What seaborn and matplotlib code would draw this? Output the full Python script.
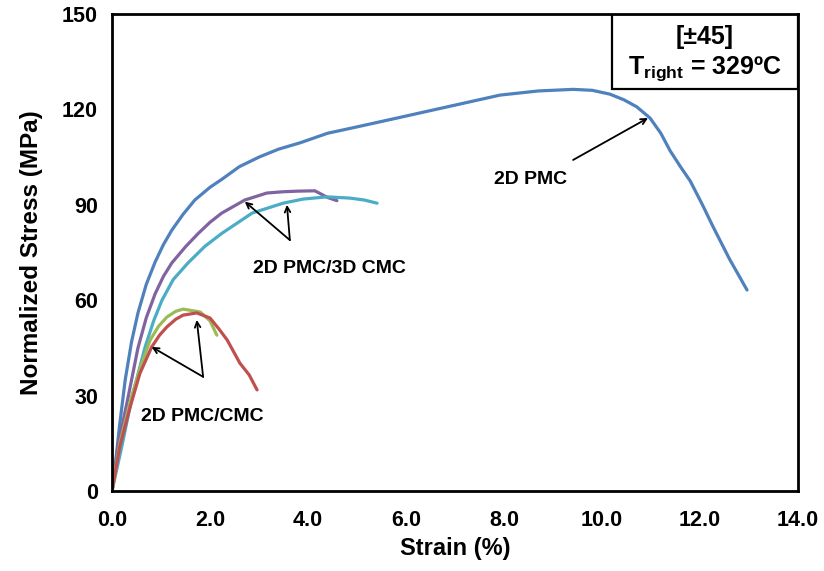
import matplotlib
matplotlib.use("Agg")
import matplotlib.pyplot as plt
from matplotlib.ticker import MultipleLocator, FormatStrFormatter
from matplotlib.patches import Rectangle
import seaborn as sns
import pandas as pd

# ---- data ----
pmc_x = [0, 0.06, 0.15, 0.27, 0.4, 0.53, 0.7, 0.88, 1.05, 1.22, 1.45, 1.69, 2.0, 2.24, 2.6, 3.0,
         3.4, 3.84, 4.4, 5.0, 5.88, 6.9, 7.92, 8.7, 9.41, 9.8, 10.16, 10.45, 10.71, 10.98, 11.2, 11.39,
         11.6, 11.8, 12.05, 12.27, 12.6, 12.96]
pmc_y = [0, 7, 20, 35, 47, 56, 65, 72, 77.5, 82, 87, 91.5, 95.5, 98, 102, 105,
         107.5, 109.5, 112.5, 114.5, 117.5, 121, 124.5, 125.8, 126.3, 126, 124.8, 123, 120.8, 117.3, 112.5, 107,
         102, 97.5, 90, 83, 73, 63.2]

pmc3d_a_x = [0, 0.12, 0.33, 0.53, 0.7, 0.88, 1.05, 1.22, 1.5, 1.76, 2.0, 2.24, 2.71, 3.16, 3.49, 3.8,
             4.14, 4.24, 4.4, 4.59]
pmc3d_a_y = [0, 14, 29.6, 45, 54.5, 62, 67.5, 71.7, 76.8, 81, 84.5, 87.4, 91.5, 93.7, 94.1, 94.3,
             94.4, 93.6, 92.3, 91.3]

pmc3d_b_x = [0, 0.2, 0.41, 0.67, 0.85, 1.02, 1.25, 1.55, 1.9, 2.24, 2.86, 3.49, 3.9, 4.39, 4.86, 5.15, 5.41]
pmc3d_b_y = [0, 14, 29.6, 45, 53.5, 60, 66.5, 71.7, 77, 81, 87.4, 90.5, 91.8, 92.5, 92.1, 91.5, 90.5]

cmc_a_x = [0, 0.16, 0.37, 0.57, 0.81, 0.97, 1.12, 1.3, 1.45, 1.73, 2.0, 2.18, 2.35, 2.61, 2.8, 2.96]
cmc_a_y = [0, 14, 26.4, 37, 45.3, 49, 51.6, 54, 55.3, 56, 54.4, 51, 47.5, 40.2, 36.5, 31.8]

cmc_b_x = [0, 0.16, 0.37, 0.57, 0.78, 0.95, 1.12, 1.3, 1.45, 1.8, 2.0, 2.14]
cmc_b_y = [0, 15, 28, 38.5, 47.5, 51.8, 54.7, 56.5, 57.2, 56.3, 53.5, 49]

series_names = ["2D PMC", "3D CMC a", "3D CMC b", "CMC b", "CMC a"]
series_colors = ["#4F81BD", "#8064A2", "#4BACC6", "#9BBB59", "#C0504D"]

x_ticks = [0, 2, 4, 6, 8, 10, 12, 14]
y_ticks = [0, 30, 60, 90, 120, 150]

frames = []
for name, xs, ys in zip(series_names,
                        [pmc_x, pmc3d_a_x, pmc3d_b_x, cmc_b_x, cmc_a_x],
                        [pmc_y, pmc3d_a_y, pmc3d_b_y, cmc_b_y, cmc_a_y]):
    frames.append(pd.DataFrame({"strain": xs, "stress": ys, "series": name}))
df = pd.concat(frames, ignore_index=True)

sns.set_style("white")
plt.rcParams["font.family"] = ["Liberation Sans", "DejaVu Sans"]
plt.rcParams["font.weight"] = "bold"
plt.rcParams["text.color"] = "black"
plt.rcParams["axes.labelcolor"] = "black"
plt.rcParams["xtick.color"] = "black"
plt.rcParams["ytick.color"] = "black"
plt.rcParams["mathtext.fontset"] = "custom"
plt.rcParams["mathtext.rm"] = "Liberation Sans:bold"
plt.rcParams["mathtext.bf"] = "Liberation Sans:bold"

fig = plt.figure(figsize=(8.24, 5.71), dpi=100)
ax = fig.add_axes([112 / 824, 80 / 571, 686 / 824, 477 / 571])

sns.lineplot(data=df, x="strain", y="stress", hue="series", hue_order=series_names,
             palette=dict(zip(series_names, series_colors)), estimator=None, sort=False,
             legend=False, linewidth=2.3, ax=ax, solid_joinstyle="round", solid_capstyle="round")

ax.set_xlim(0, 14)
ax.set_ylim(0, 150)
ax.set_xticks(x_ticks)
ax.set_yticks(y_ticks)
ax.xaxis.set_major_formatter(FormatStrFormatter("%.1f"))
ax.xaxis.set_minor_locator(MultipleLocator(0.5))
ax.yaxis.set_minor_locator(MultipleLocator(5))
ax.tick_params(which="both", direction="in", top=False, right=False, width=1.6, colors="black",
               labelsize=15.5)
ax.tick_params(axis="x", which="major", pad=14)
ax.tick_params(axis="y", which="major", pad=10)
ax.tick_params(which="major", length=6)
ax.tick_params(which="minor", length=4.5)
for lab in ax.get_xticklabels() + ax.get_yticklabels():
    lab.set_fontweight("bold")
for sp in ax.spines.values():
    sp.set_visible(True)
    sp.set_color("black")
    sp.set_linewidth(2.0)

ax.set_xlabel("Strain (%)", fontsize=17, fontweight="bold", labelpad=4)
ax.set_ylabel("Normalized Stress (MPa)", fontsize=17.5, fontweight="bold", labelpad=14)

# info box
ax.add_patch(Rectangle((0.729, 0.843), 0.271, 0.157, transform=ax.transAxes, fill=False,
                       edgecolor="black", linewidth=1.6, zorder=5))
ax.text(0.8645, 0.952, "[±45]", transform=ax.transAxes, ha="center", va="center",
        fontsize=18, fontweight="bold")
ax.text(0.8645, 0.886, r"T$_{\mathbf{right}}$ = 329ºC", transform=ax.transAxes, ha="center",
        va="center", fontsize=18, fontweight="bold")

arrow = dict(arrowstyle="->", color="black", lw=1.3, shrinkA=0, shrinkB=0)

ax.text(8.55, 97.8, "2D PMC", ha="center", va="center", fontsize=14, fontweight="bold")
ax.annotate("", xy=(10.94, 117.3), xytext=(9.41, 104.1), arrowprops=arrow)

ax.text(4.43, 70.1, "2D PMC/3D CMC", ha="center", va="center", fontsize=14, fontweight="bold")
ax.annotate("", xy=(2.71, 91.0), xytext=(3.63, 78.9), arrowprops=arrow)
ax.annotate("", xy=(3.57, 90.0), xytext=(3.63, 78.9), arrowprops=arrow)

ax.text(1.84, 23.4, "2D PMC/CMC", ha="center", va="center", fontsize=14, fontweight="bold")
ax.annotate("", xy=(0.81, 45.3), xytext=(1.86, 35.9), arrowprops=arrow)
ax.annotate("", xy=(1.73, 53.8), xytext=(1.86, 35.9), arrowprops=arrow)

fig.savefig("out.png", dpi=100)
